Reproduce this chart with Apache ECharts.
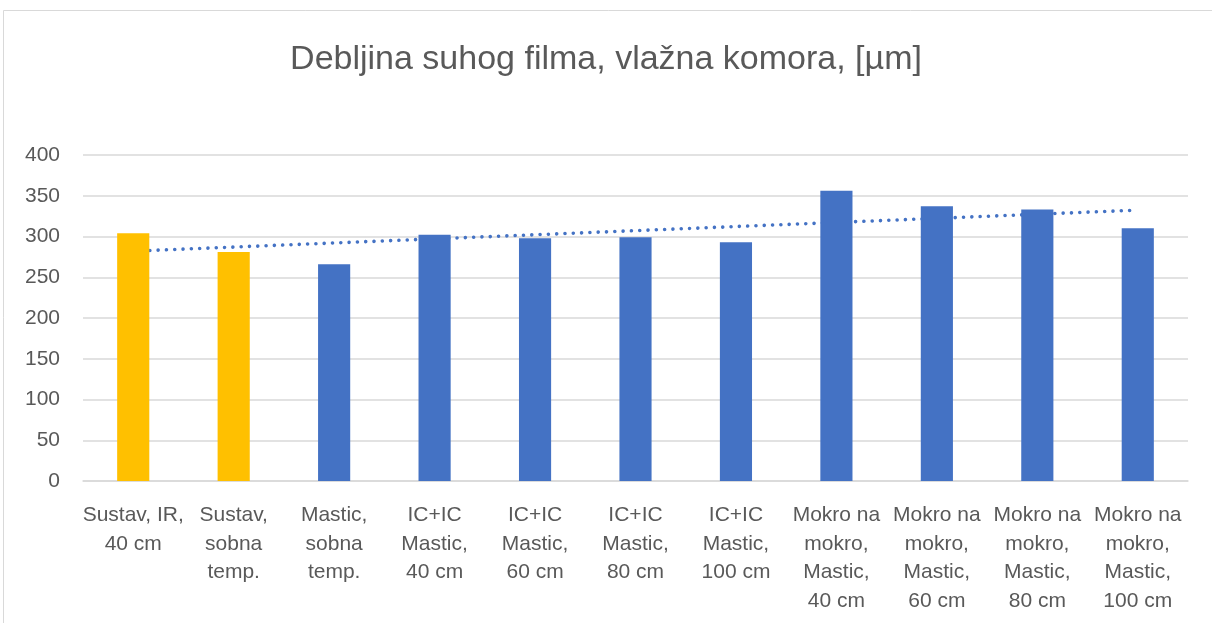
<!DOCTYPE html>
<html>
<head>
<meta charset="utf-8">
<script src="https://cdn.jsdelivr.net/npm/echarts@6/dist/echarts.min.js"></script>
<style>
  html, body { margin: 0; padding: 0; background: #fff; }
  #chart { width: 1212px; height: 623px; }
</style>
</head>
<body>
<div id="chart"></div>
<script>
// Dry film thickness per application system, humidity chamber
const categories = [
  'Sustav, IR,\n40 cm',
  'Sustav,\nsobna\ntemp.',
  'Mastic,\nsobna\ntemp.',
  'IC+IC\nMastic,\n40 cm',
  'IC+IC\nMastic,\n60 cm',
  'IC+IC\nMastic,\n80 cm',
  'IC+IC\nMastic,\n100 cm',
  'Mokro na\nmokro,\nMastic,\n40 cm',
  'Mokro na\nmokro,\nMastic,\n60 cm',
  'Mokro na\nmokro,\nMastic,\n80 cm',
  'Mokro na\nmokro,\nMastic,\n100 cm'
];
const thickness = [304, 281, 266, 302, 298, 299, 293, 356, 337, 333, 310];
const systemGroup = ['sustav', 'sustav', 'mastic', 'mastic', 'mastic', 'mastic', 'mastic', 'mastic', 'mastic', 'mastic', 'mastic'];
const yTicks = { min: 0, max: 400, interval: 50 };

const groupColors = { sustav: '#FFC000', mastic: '#4472C4' };

// Linear least-squares trend over the bar values
function linearTrend(values) {
  const n = values.length;
  let sx = 0, sy = 0, sxy = 0, sxx = 0;
  values.forEach((v, i) => {
    const x = i + 1;
    sx += x; sy += v; sxy += x * v; sxx += x * x;
  });
  const slope = (n * sxy - sx * sy) / (n * sxx - sx * sx);
  const icpt = (sy - slope * sx) / n;
  return values.map((_, i) => +(icpt + slope * (i + 1)).toFixed(2));
}
const trend = linearTrend(thickness);

const font = '"Liberation Sans", Arial, sans-serif';
const chart = echarts.init(document.getElementById('chart'), null, { renderer: 'canvas' });

chart.setOption({
  animation: false,
  backgroundColor: '#fff',
  graphic: [{
    type: 'rect',
    shape: { x: 3.5, y: 10.5, width: 1300, height: 700 },
    style: { fill: 'none', stroke: '#d9d9d9', lineWidth: 1 },
    silent: true,
    z: -10
  }],
  title: {
    text: 'Debljina suhog filma, vlažna komora, [µm]',
    left: 'center',
    top: 38,
    textStyle: { fontFamily: font, fontSize: 34, fontWeight: 'normal', color: '#595959' }
  },
  grid: { left: 83, right: 24, top: 155, bottom: 142, containLabel: false },
  xAxis: {
    type: 'category',
    data: categories,
    axisLine: { show: true, lineStyle: { color: '#d9d9d9', width: 1.5 } },
    axisTick: { show: false },
    axisLabel: {
      interval: 0,
      margin: 20,
      fontFamily: font,
      fontSize: 21,
      lineHeight: 28.5,
      color: '#595959',
      align: 'center',
      verticalAlign: 'top'
    }
  },
  yAxis: {
    type: 'value',
    min: yTicks.min,
    max: yTicks.max,
    interval: yTicks.interval,
    axisLine: { show: false },
    axisTick: { show: false },
    splitLine: { lineStyle: { color: '#d9d9d9', width: 1.5 } },
    axisLabel: { margin: 23, fontFamily: font, fontSize: 21, color: '#595959' }
  },
  series: [
    {
      type: 'line',
      data: trend,
      symbol: 'none',
      z: 1,
      lineStyle: { color: '#4472C4', width: 3.6, type: [0.01, 8.3], cap: 'round' },
      silent: true
    },
    {
      type: 'bar',
      z: 2,
      barWidth: '32%',
      data: thickness.map((v, i) => ({ value: v, itemStyle: { color: groupColors[systemGroup[i]] } }))
    }
  ]
});
</script>
</body>
</html>
